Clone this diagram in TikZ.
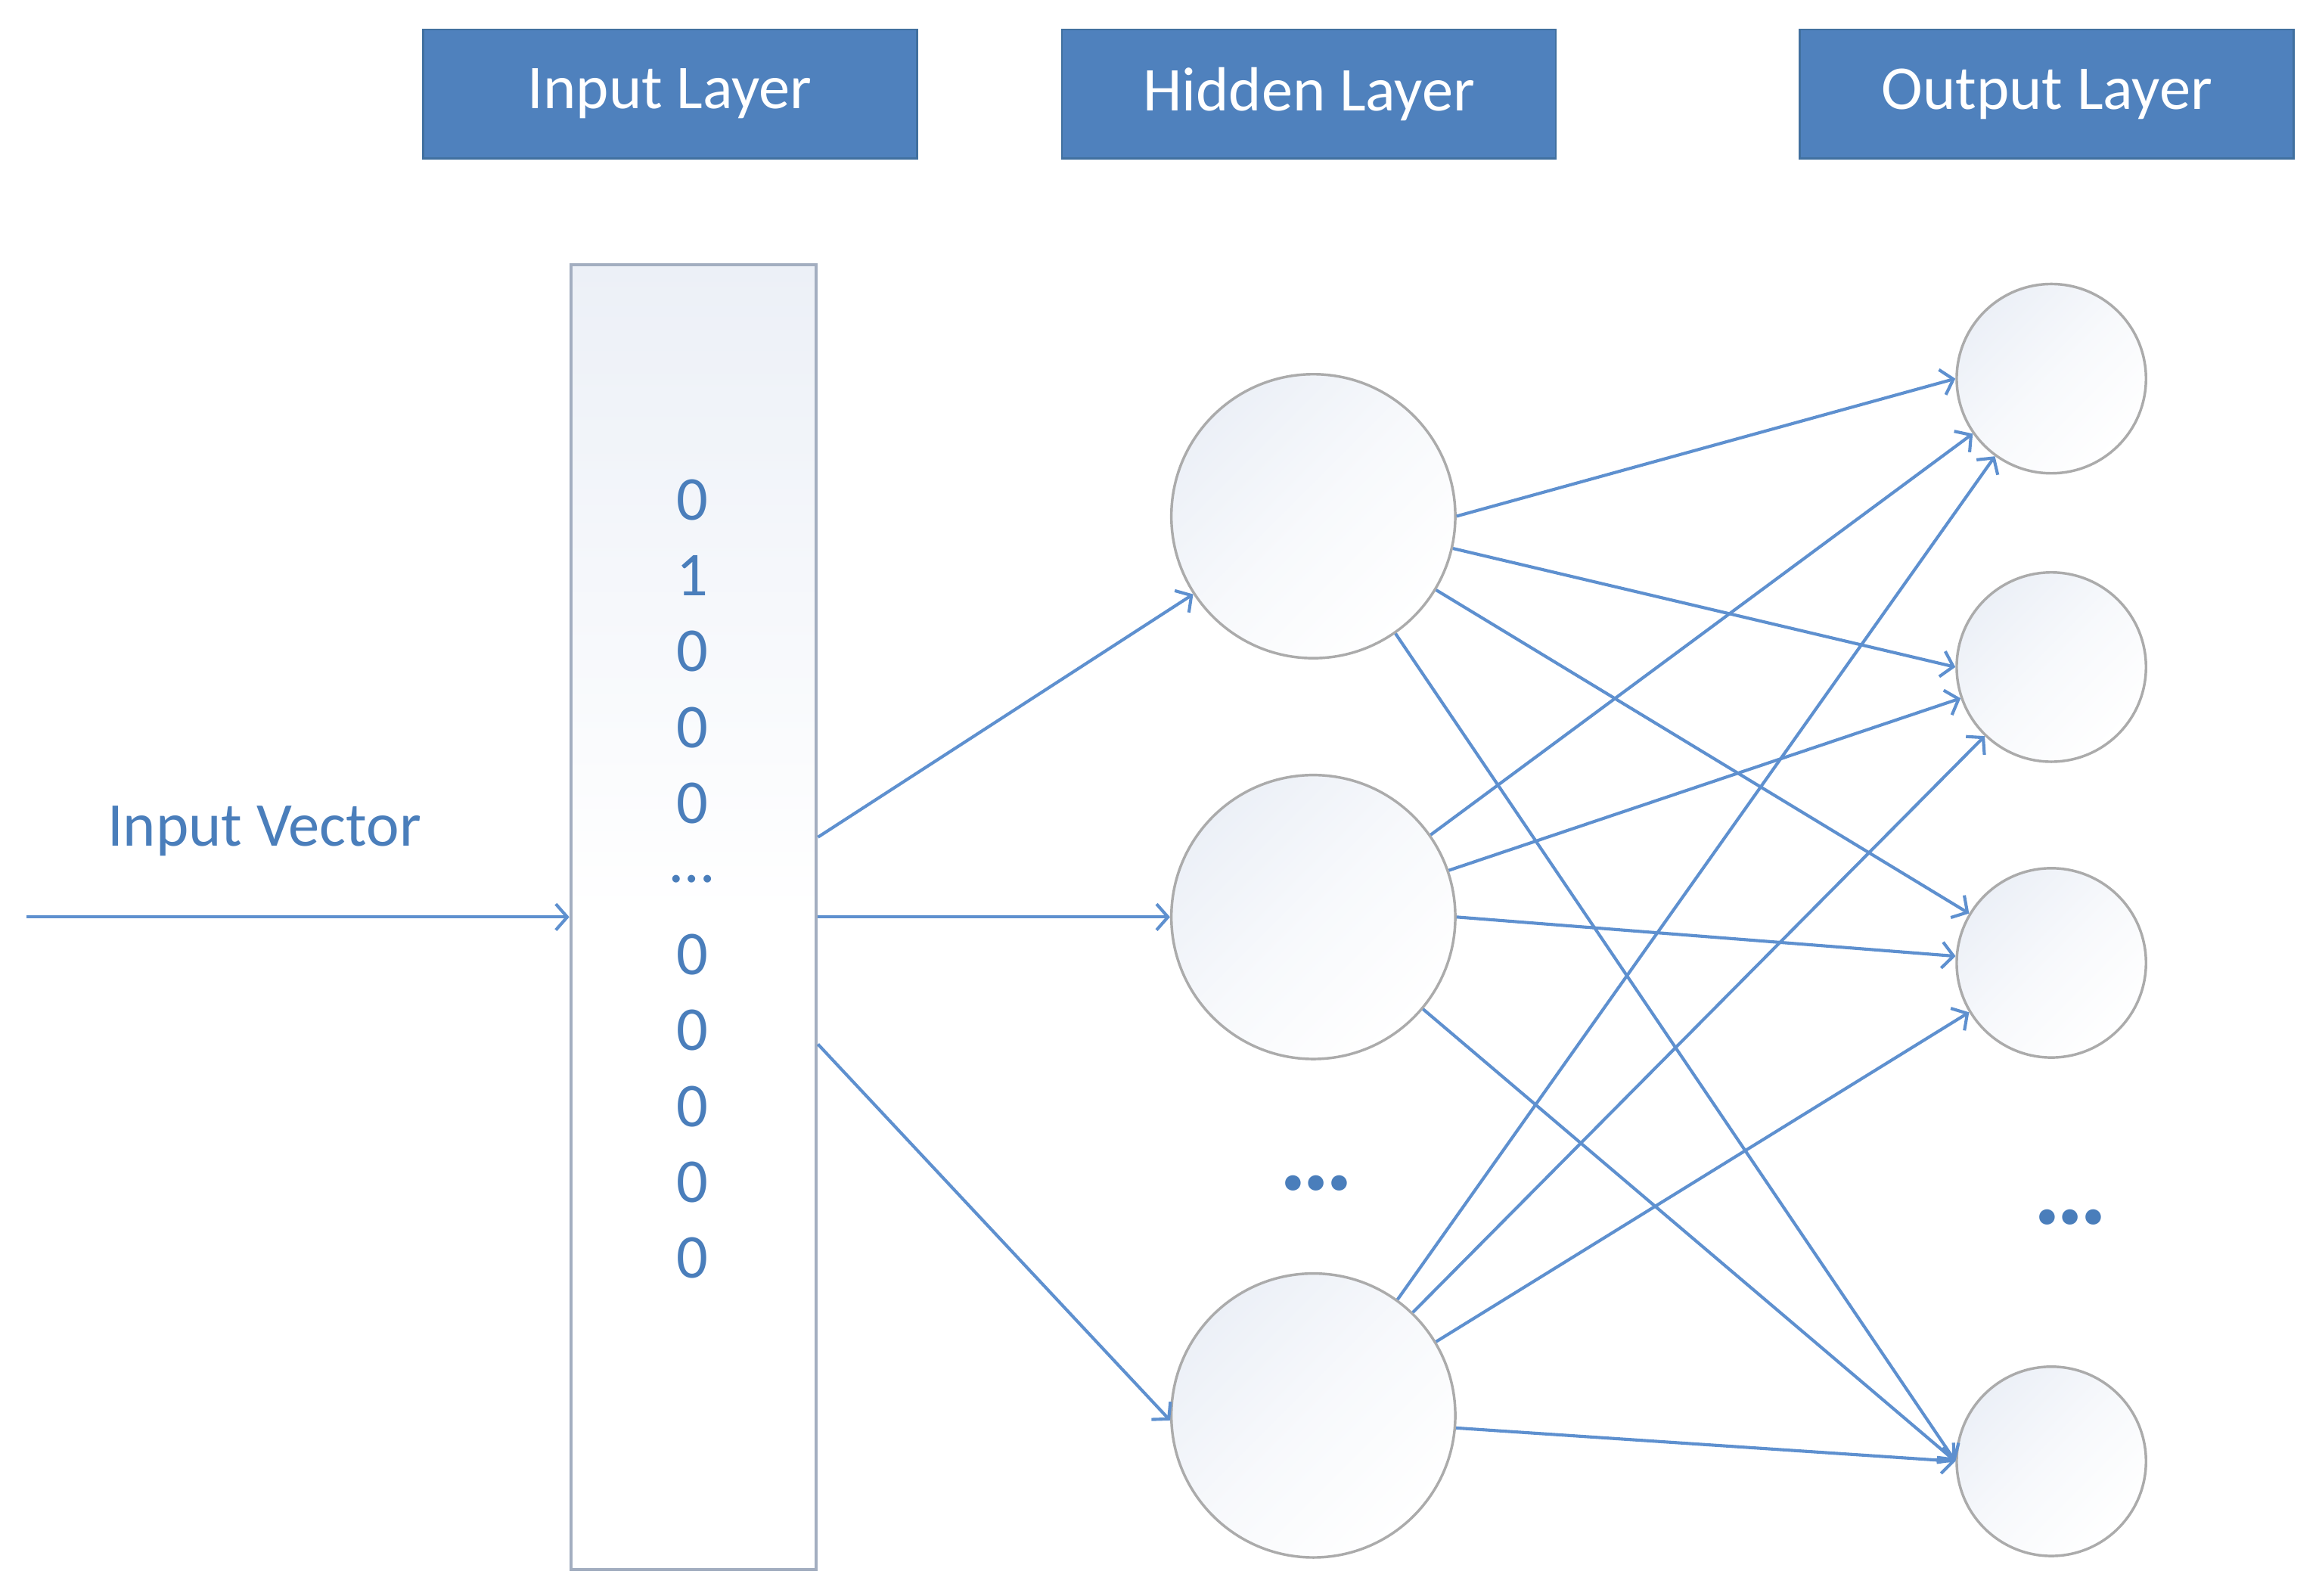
\documentclass[tikz,border=0pt]{standalone}
\usepackage{fontspec}
\setmainfont{Carlito}
\usetikzlibrary{calc,arrows.meta}
\definecolor{hdrblue}{HTML}{4F81BD}
\definecolor{hdredge}{HTML}{41709F}
\definecolor{txtblue}{HTML}{4A7EBB}
\definecolor{linkblue}{HTML}{5E90CF}
\definecolor{ringgray}{HTML}{ABABAB}
\definecolor{colgray}{HTML}{A3AEC0}
\definecolor{shadeblue}{HTML}{ECF0F7}

\begin{document}
\begin{tikzpicture}[
  hdr/.style={rectangle,fill=hdrblue,draw=hdredge,line width=0.4pt,minimum width=3.34cm,minimum height=0.87cm,text=white,font=\fontsize{12}{14.4}\selectfont},
  neuron/.style={circle,draw=ringgray,line width=0.5pt,top color=shadeblue,bottom color=white,middle color=white!60!shadeblue,shading angle=45,inner sep=0pt},
  conn/.style={draw=linkblue,line width=0.6pt,-{Straight Barb[length=2.2pt,width=5pt]}},
  bit/.style={text=txtblue,font=\fontsize{12}{14.4}\selectfont,inner sep=0pt}
]
\useasboundingbox (0,0) rectangle (15.68,-10.79);

% layer titles
\node[hdr](hdrin)at(4.53,-0.635){Input Layer};
\node[hdr](hdrhid)at(8.85,-0.635){Hidden Layer};
\node[hdr](hdrout)at(13.84,-0.635){Output Layer};

% input column
\node[rectangle,draw=colgray,line width=0.6pt,top color=shadeblue,bottom color=white,middle color=white,minimum width=1.66cm,minimum height=8.82cm](col)at(4.69,-6.20){};
\foreach \v [count=\i from 0] in {0,1,0,0,0,…,0,0,0,0,0}
    \node[bit](bit\i)at(4.68,-3.38-0.5125*\i){\v};

\coordinate(vin)at(0.18,-6.20);
\node[anchor=base west,bit](vlabel)at(0.72,-5.72){Input Vector};
\draw[conn](vin)--(col.west);

% hidden layer
\node[neuron,minimum size=1.92cm](H1)at(8.88,-3.49){};
\node[neuron,minimum size=1.92cm](H2)at(8.88,-6.20){};
\node[neuron,minimum size=1.92cm](H3)at(8.88,-9.57){};
\node[text=txtblue,font=\fontsize{20}{24}\selectfont\bfseries](hdots)at(8.90,-8.00){…};

% output layer
\node[neuron,minimum size=1.28cm](O1)at(13.87,-2.56){};
\node[neuron,minimum size=1.28cm](O2)at(13.87,-4.51){};
\node[neuron,minimum size=1.28cm](O3)at(13.87,-6.51){};
\node[neuron,minimum size=1.28cm](O4)at(13.87,-9.88){};
\node[text=txtblue,font=\fontsize{20}{24}\selectfont\bfseries](odots)at(14.00,-8.23){…};

% column to hidden
\draw[conn]($(col.east)+(0,0.54)$)--(H1.213);
\draw[conn](col.east)--(H2.west);
\draw[conn]($(col.east)+(0,-0.86)$)--(H3.182);

% hidden to output
\foreach \a/\b in {H1.0/O1.180,H1.-13/O2.180,H1.-31/O3.149,H1.-55/O4.180,
                   H2.35/O1.215,H2.19/O2.199,H2.0/O3.176,H2.-40/O4.180,
                   H3.54/O1.234,H3.46/O2.226,H3.31/O3.211,H3.-5/O4.180}
    \draw[conn](\a)--(\b);
\end{tikzpicture}
\end{document}
